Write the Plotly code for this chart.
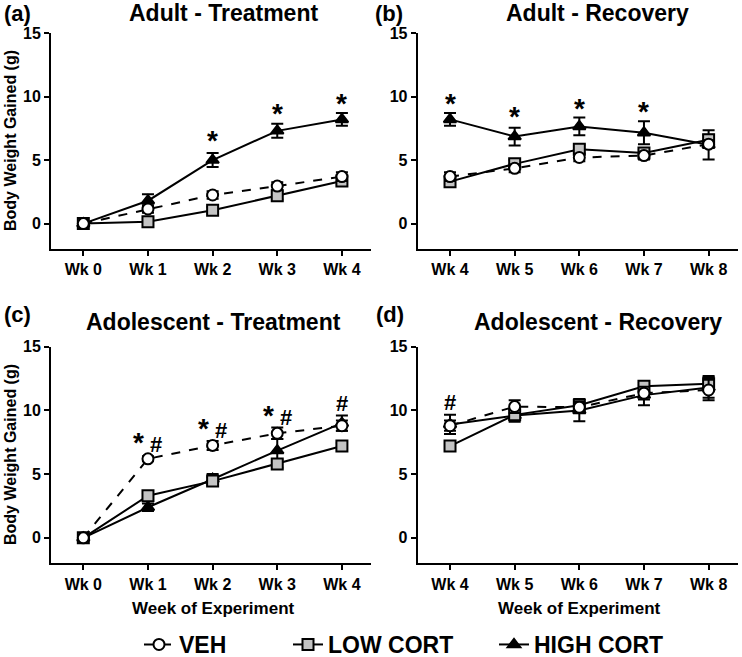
import plotly.graph_objects as go

# ---------------- data ----------------
weeks_treat = ["Wk 0", "Wk 1", "Wk 2", "Wk 3", "Wk 4"]
weeks_recov = ["Wk 4", "Wk 5", "Wk 6", "Wk 7", "Wk 8"]

# (a) Adult - Treatment
a_veh = [0.0, 1.15, 2.25, 2.95, 3.7]
a_veh_err = [0.1, 0.3, 0.3, 0.3, 0.35]
a_low = [0.0, 0.15, 1.05, 2.2, 3.35]
a_low_err = [0.1, 0.2, 0.25, 0.3, 0.3]
a_high = [0.0, 1.8, 5.0, 7.3, 8.2]
a_high_err = [0.1, 0.5, 0.55, 0.55, 0.5]

# (b) Adult - Recovery
b_veh = [3.7, 4.35, 5.2, 5.35, 6.25]
b_veh_err = [0.35, 0.3, 0.3, 0.3, 0.3]
b_low = [3.3, 4.7, 5.85, 5.55, 6.6]
b_low_err = [0.3, 0.3, 0.35, 0.3, 0.4]
b_high = [8.2, 6.85, 7.65, 7.15, 6.2]
b_high_err = [0.5, 0.7, 0.7, 0.9, 1.15]

# (c) Adolescent - Treatment
c_veh = [0.0, 6.2, 7.25, 8.2, 8.8]
c_veh_err = [0.1, 0.2, 0.35, 0.45, 0.4]
c_low = [0.0, 3.3, 4.45, 5.8, 7.2]
c_low_err = [0.1, 0.2, 0.3, 0.3, 0.25]
c_high = [0.0, 2.4, 4.6, 6.85, 9.0]
c_high_err = [0.1, 0.3, 0.4, 0.9, 0.6]

# (d) Adolescent - Recovery
d_veh = [8.8, 10.3, 10.25, 11.35, 11.6]
d_veh_err = [0.4, 0.5, 0.4, 0.5, 0.8]
d_low = [7.2, 9.65, 10.4, 11.9, 12.1]
d_low_err = [0.25, 0.4, 0.5, 0.3, 0.6]
d_high = [8.9, 9.6, 10.0, 11.2, 11.8]
d_high_err = [0.75, 0.5, 0.85, 0.8, 0.8]

# significance marks: (week, y, label)
a_sig_x = ["Wk 2", "Wk 3", "Wk 4"]
a_sig_y = [6.87, 8.97, 9.76]
a_sig_t = ["*", "*", "*"]
b_sig_x = ["Wk 4", "Wk 5", "Wk 6", "Wk 7"]
b_sig_y = [9.8, 8.71, 9.36, 9.1]
b_sig_t = ["*", "*", "*", "*"]
c_sig_x = ["Wk 1", "Wk 2", "Wk 3", "Wk 4"]
c_sig_y = [7.8, 8.93, 9.9, 10.86]
c_sig_t = ["* #", "* #", "* #", "#"]
d_sig_x = ["Wk 4"]
d_sig_y = [10.94]
d_sig_t = ["#"]

panel_titles = ["Adult - Treatment", "Adult - Recovery",
                "Adolescent - Treatment", "Adolescent - Recovery"]
panel_letters = ["(a)", "(b)", "(c)", "(d)"]
y_title = "Body Weight Gained (g)"
x_title = "Week of Experiment"
group_names = ["VEH", "LOW CORT", "HIGH CORT"]
y_ticks = [0, 5, 10, 15]

# ---------------- styling ----------------
FONT = "Liberation Sans, Arial, sans-serif"
W, H = 742, 657

styles = {
    "VEH": dict(dash="dash", symbol="circle", fill="white", size=11),
    "LOW CORT": dict(dash="solid", symbol="square", fill="#c4c4c4", size=11),
    "HIGH CORT": dict(dash="solid", symbol="triangle-up", fill="black", size=11),
}

fig = go.Figure()

panels = [
    ("x", "y", weeks_treat, [(a_high, a_high_err, "HIGH CORT"), (a_low, a_low_err, "LOW CORT"), (a_veh, a_veh_err, "VEH")]),
    ("x2", "y2", weeks_recov, [(b_high, b_high_err, "HIGH CORT"), (b_low, b_low_err, "LOW CORT"), (b_veh, b_veh_err, "VEH")]),
    ("x3", "y3", weeks_treat, [(c_high, c_high_err, "HIGH CORT"), (c_low, c_low_err, "LOW CORT"), (c_veh, c_veh_err, "VEH")]),
    ("x4", "y4", weeks_recov, [(d_high, d_high_err, "HIGH CORT"), (d_low, d_low_err, "LOW CORT"), (d_veh, d_veh_err, "VEH")]),
]

legend_ids = {"VEH": "legend", "LOW CORT": "legend2", "HIGH CORT": "legend3"}

for pi, (xa, ya, cats, series) in enumerate(panels):
    for vals, errs, name in series:
        st = styles[name]
        fig.add_trace(go.Scatter(
            x=cats, y=vals, xaxis=xa, yaxis=ya, name=name,
            mode="lines+markers",
            line=dict(color="black", width=2, dash=st["dash"]),
            marker=dict(symbol=st["symbol"], size=st["size"], color=st["fill"],
                        line=dict(color="black", width=2)),
            error_y=dict(type="data", array=errs, visible=True, color="black",
                         thickness=2, width=6),
            showlegend=(pi == 0),
            legend=legend_ids[name],
        ))

# ---------------- axes ----------------
def px_x(p):
    return p / W

def px_y(p):
    return (H - p) / H

x_dom_left = [px_x(51), px_x(371)]
x_dom_right = [px_x(417.7), px_x(737.7)]
y_dom_top = [px_y(249), px_y(33)]
y_dom_bot = [px_y(563.3), px_y(346.7)]

axis_common = dict(showline=True, linecolor="black", linewidth=2, ticks="outside",
                   ticklen=5, tickwidth=2, tickcolor="black", showgrid=False,
                   zeroline=False, mirror=False,
                   tickfont=dict(family=FONT, size=16, color="black", weight="bold"))

layout_axes = {}
for i, (xd, yd, cats) in enumerate([(x_dom_left, y_dom_top, weeks_treat),
                                     (x_dom_right, y_dom_top, weeks_recov),
                                     (x_dom_left, y_dom_bot, weeks_treat),
                                     (x_dom_right, y_dom_bot, weeks_recov)]):
    sfx = "" if i == 0 else str(i + 1)
    layout_axes["xaxis" + sfx] = dict(axis_common, domain=xd, type="category",
                                      categoryorder="array", categoryarray=cats,
                                      range=[-0.5, 4.45], anchor="y" + sfx,
                                      fixedrange=True)
    layout_axes["yaxis" + sfx] = dict(axis_common, domain=yd, range=[-2, 15],
                                      tickvals=y_ticks, anchor="x" + sfx,
                                      fixedrange=True)

fig.update_layout(**layout_axes)

# ---------------- annotations ----------------
ann = []

def text_font(size):
    return dict(family=FONT, size=size, color="black", weight="bold")

title_pos = [(223, 13), (597.7, 13), (214, 322), (597.7, 322)]
letter_pos = [(17, 13), (389, 13), (17, 314), (390, 314)]
for t, (tx, ty) in zip(panel_titles, title_pos):
    ann.append(dict(text=t, x=px_x(tx), y=px_y(ty), xref="paper", yref="paper",
                    xanchor="center", yanchor="middle", showarrow=False, font=text_font(23)))
for t, (tx, ty) in zip(panel_letters, letter_pos):
    ann.append(dict(text=t, x=px_x(tx), y=px_y(ty), xref="paper", yref="paper",
                    xanchor="center", yanchor="middle", showarrow=False, font=text_font(22)))

for cy in [141, 455]:
    ann.append(dict(text=y_title, x=px_x(10), y=px_y(cy), xref="paper", yref="paper",
                    xanchor="center", yanchor="middle", textangle=-90, showarrow=False,
                    font=text_font(16)))
for cx in [214, 579]:
    ann.append(dict(text=x_title, x=px_x(cx), y=px_y(608), xref="paper", yref="paper",
                    xanchor="center", yanchor="middle", showarrow=False, font=text_font(17)))

def sig_text(s):
    return s.replace("*", "<span style='font-size:28px'>*</span>")

for (xs, ys, ts), (xa, ya) in zip([(a_sig_x, a_sig_y, a_sig_t), (b_sig_x, b_sig_y, b_sig_t),
                                    (c_sig_x, c_sig_y, c_sig_t), (d_sig_x, d_sig_y, d_sig_t)],
                                   [("x", "y"), ("x2", "y2"), ("x3", "y3"), ("x4", "y4")]):
    for sx, sy, st in zip(xs, ys, ts):
        ann.append(dict(text=sig_text(st), x=sx, y=sy, xref=xa, yref=ya,
                        xanchor="center", yanchor="middle", showarrow=False,
                        yshift=-4, font=text_font(22)))

fig.update_layout(annotations=ann)

# ---------------- legends ----------------
leg_common = dict(orientation="h", yanchor="bottom", xanchor="left",
                   bgcolor="rgba(0,0,0,0)", borderwidth=0,
                   font=dict(family=FONT, size=23, color="black", weight="bold"),
                   itemwidth=30)
leg_y = -9 / H
fig.update_layout(
    legend=dict(leg_common, x=px_x(139), y=leg_y),
    legend2=dict(leg_common, x=px_x(288), y=leg_y),
    legend3=dict(leg_common, x=px_x(494), y=leg_y),
)

fig.update_layout(width=W, height=H, margin=dict(l=0, r=0, t=0, b=0, autoexpand=False),
                  paper_bgcolor="white", plot_bgcolor="white",
                  font=dict(family=FONT, color="black"))

fig.write_html("out.html", config={"displayModeBar": False},
               post_script="document.body.style.margin='0';document.body.style.overflow='hidden';")
